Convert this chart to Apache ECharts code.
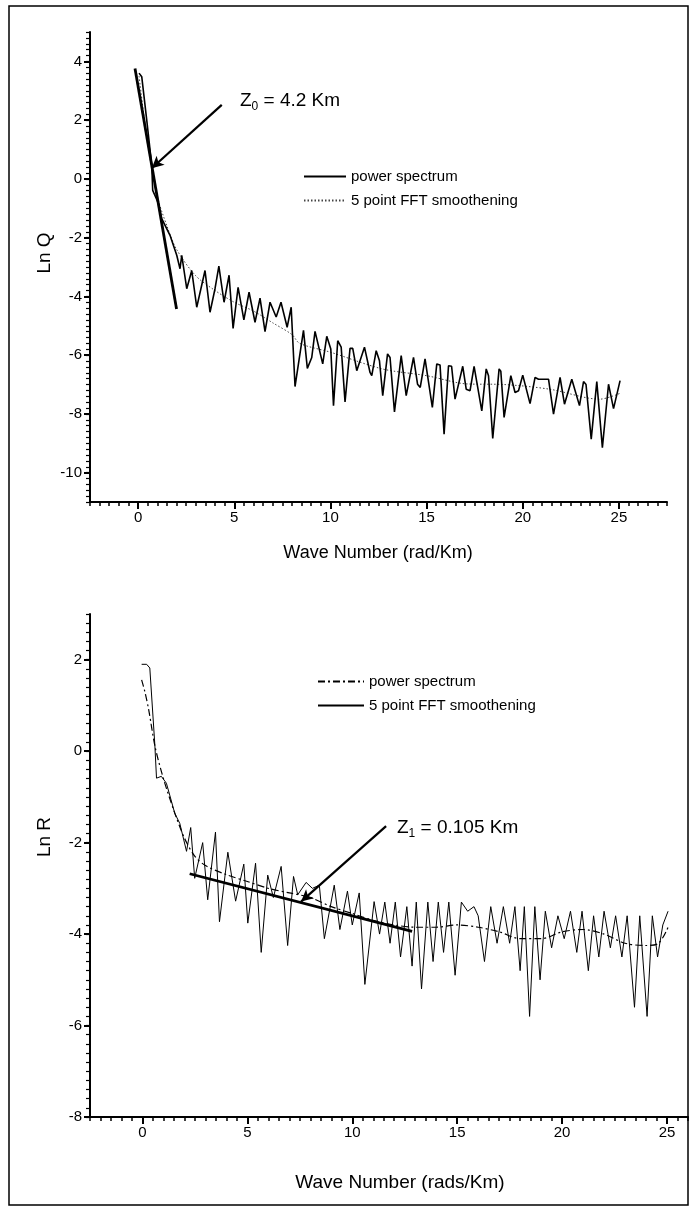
<!DOCTYPE html>
<html><head><meta charset="utf-8">
<script src="https://cdn.jsdelivr.net/npm/echarts@6/dist/echarts.min.js"></script>
<style>html,body{margin:0;padding:0;background:#fff}#c{width:690px;height:1211px}</style>
</head><body><div id="c"></div>
<script>
// ---------- DATA ----------
// Top panel: Ln Q vs wave number (rad/Km)
const qPowerX = [0.05,0.19,0.45,0.71,0.76,1.06,1.23,1.66,2.01,2.18,2.27,2.53,2.79,3.05,3.48,3.74,4.0,4.2,4.47,4.73,4.94,5.2,5.5,5.77,6.08,6.34,6.6,6.86,7.18,7.43,7.75,7.96,8.16,8.6,8.8,9.03,9.2,9.6,9.81,10.02,10.16,10.38,10.56,10.76,11.02,11.16,11.37,11.77,12.06,12.15,12.38,12.55,12.72,12.97,13.1,13.33,13.68,13.94,14.32,14.53,14.67,14.92,15.3,15.53,15.7,15.91,16.14,16.3,16.48,16.88,17.06,17.26,17.47,17.87,18.1,18.22,18.44,18.77,18.86,19.03,19.38,19.6,19.78,20.0,20.38,20.64,20.82,21.34,21.6,21.94,22.17,22.55,22.95,23.16,23.29,23.56,23.85,23.95,24.14,24.46,24.72,25.06];
const qPowerY = [3.6,3.48,2.0,0.47,-0.39,-0.84,-1.35,-1.92,-2.6,-3.06,-2.6,-3.74,-3.12,-4.37,-3.12,-4.54,-3.74,-2.97,-4.2,-3.28,-5.09,-3.69,-4.8,-3.86,-4.88,-4.06,-5.2,-4.2,-4.7,-4.2,-5.05,-4.37,-7.07,-5.16,-6.45,-6.08,-5.19,-6.3,-5.36,-5.79,-7.72,-5.51,-5.73,-7.59,-5.77,-5.77,-6.53,-5.73,-6.59,-6.7,-5.85,-6.19,-7.38,-5.96,-6.08,-7.93,-6.02,-7.38,-6.08,-6.99,-7.1,-6.13,-7.78,-6.3,-6.34,-8.69,-6.36,-6.38,-7.5,-6.38,-7.16,-7.21,-6.38,-7.9,-6.47,-6.7,-8.84,-6.47,-6.55,-8.12,-6.7,-7.27,-7.21,-6.68,-7.65,-6.76,-6.82,-6.82,-8.01,-6.76,-7.67,-6.82,-7.72,-6.9,-7.0,-8.86,-6.9,-6.95,-9.15,-6.99,-7.82,-6.87];
const qSmoothX = [0.05,0.5,1.0,1.5,2.0,3.0,4.0,5.0,6.0,7.0,8.0,8.4,10.0,12.7,15.0,17.1,19.0,21.4,24.0,25.06];
const qSmoothY = [3.5,1.2,-0.6,-1.6,-2.4,-3.3,-3.8,-4.2,-4.5,-4.9,-5.3,-5.6,-5.9,-6.47,-6.7,-6.98,-7.0,-7.16,-7.5,-7.3];
const qFitX = [-0.16,2.0];
const qFitY = [3.76,-4.43];

// Bottom panel: Ln R vs wave number (rads/Km)
const rJagX = [-0.04,0.2,0.35,0.59,0.67,0.9,1.14,1.3,1.54,1.78,2.1,2.3,2.49,2.87,3.11,3.48,3.67,4.07,4.44,4.83,5.02,5.39,5.66,5.97,6.24,6.61,6.92,7.2,7.4,7.8,8.1,8.43,8.67,9.14,9.41,9.77,10.0,10.33,10.6,11.04,11.3,11.55,11.8,12.05,12.3,12.6,12.85,13.05,13.3,13.6,13.85,14.1,14.35,14.6,14.9,15.2,15.5,15.8,16.0,16.3,16.6,16.9,17.2,17.5,17.75,18.0,18.2,18.45,18.7,18.95,19.2,19.5,19.8,20.1,20.4,20.7,20.95,21.25,21.5,21.75,22.0,22.3,22.55,22.85,23.1,23.45,23.7,24.05,24.3,24.55,24.8,25.05];
const rJagY = [1.9,1.9,1.82,0.14,-0.59,-0.55,-0.7,-0.96,-1.36,-1.58,-2.19,-1.67,-2.78,-2.0,-3.25,-1.77,-3.73,-2.21,-3.28,-2.47,-3.76,-2.45,-4.4,-2.71,-3.2,-2.52,-4.25,-2.74,-3.14,-2.87,-3.0,-2.93,-4.1,-2.93,-3.9,-3.06,-3.8,-3.1,-5.1,-3.29,-4.0,-3.3,-4.2,-3.3,-4.5,-3.4,-4.7,-3.3,-5.2,-3.3,-4.6,-3.3,-4.4,-3.3,-4.9,-3.3,-3.5,-3.4,-3.6,-4.6,-3.4,-4.2,-3.4,-4.2,-3.4,-4.8,-3.4,-5.8,-3.4,-5.0,-3.5,-4.3,-3.6,-4.1,-3.5,-4.4,-3.5,-4.8,-3.6,-4.5,-3.5,-4.3,-3.6,-4.5,-3.6,-5.6,-3.6,-5.8,-3.6,-4.5,-3.8,-3.5];
const rDashX = [-0.04,0.11,0.3,0.6,1.0,1.5,2.0,2.5,3.0,4.0,5.0,6.0,7.0,8.0,9.0,10.0,11.0,12.0,13.0,14.0,15.0,16.0,17.0,18.0,19.0,20.0,21.0,22.0,23.0,24.0,24.6,25.05];
const rDashY = [1.56,1.31,0.9,0.1,-0.6,-1.3,-1.9,-2.3,-2.5,-2.7,-2.85,-3.0,-3.1,-3.2,-3.4,-3.55,-3.7,-3.8,-3.85,-3.85,-3.8,-3.85,-3.95,-4.1,-4.1,-3.95,-3.9,-4.0,-4.2,-4.25,-4.2,-3.85];
const rFitX = [2.25,12.85];
const rFitY = [-2.68,-3.94];

// Ticks
const topXTicks = [0,5,10,15,20,25];
const topYTicks = [-10,-8,-6,-4,-2,0,2,4];
const botXTicks = [0,5,10,15,20,25];
const botYTicks = [-8,-6,-4,-2,0,2];

// Annotation arrows [from, to]
const qArrow = [[4.35,2.52],[0.71,0.36]];
const rArrow = [[11.61,-1.64],[7.56,-3.29]];

// ---------- CHART ----------
const zip = (a,b)=>a.map((v,i)=>[v,b[i]]);
const FONT = '"Liberation Sans", Arial, sans-serif';
const lbl = {color:'#000', fontFamily:FONT, fontSize:15, margin:8};
const axLine = {lineStyle:{color:'#000', width:2}};

function majorX(grid, min, max, ticks){
  return {type:'value', gridIndex:grid, min, max, position:'bottom',
    axisLine:{show:true, onZero:false, ...axLine},
    axisTick:{show:true, length:7, customValues:ticks, lineStyle:{color:'#000',width:2}},
    axisLabel:{...lbl, customValues:ticks}, splitLine:{show:false}};
}
function minorX(grid, min, max, step){
  return {type:'value', gridIndex:grid, min, max, interval:step, position:'bottom',
    axisLine:{show:false, onZero:false}, axisTick:{show:true, length:4, lineStyle:{color:'#000',width:1.5}},
    axisLabel:{show:false}, splitLine:{show:false}};
}
function majorY(grid, min, max, ticks){
  return {type:'value', gridIndex:grid, min, max, position:'left',
    axisLine:{show:true, onZero:false, ...axLine},
    axisTick:{show:true, length:6, customValues:ticks, lineStyle:{color:'#000',width:2}},
    axisLabel:{...lbl, customValues:ticks}, splitLine:{show:false}};
}
function minorY(grid, min, max, step){
  return {type:'value', gridIndex:grid, min, max, interval:step, position:'left',
    axisLine:{show:false, onZero:false}, axisTick:{show:true, length:4, lineStyle:{color:'#000',width:1.2}},
    axisLabel:{show:false}, splitLine:{show:false}};
}

const legendBase = {orient:'vertical', itemHeight:10, itemGap:9, selectedMode:false,
  itemStyle:{opacity:0}, textStyle:{fontFamily:FONT, fontSize:15, color:'#000'}};

const chart = echarts.init(document.getElementById('c'), null, {renderer:'canvas'});
const option = {
  backgroundColor:'#fff',
  animation:false,
  color:['#000'],
  grid:[
    {left:90, top:32, width:577, height:470},
    {left:90, top:614, width:598, height:503}
  ],
  xAxis:[ majorX(0,-2.5,27.5,topXTicks), minorX(0,-2.5,27.5,0.5),
          majorX(1,-2.5,26,botXTicks),  minorX(1,-2.5,26,0.5) ],
  yAxis:[ majorY(0,-11,5,topYTicks), minorY(0,-11,5,0.2),
          majorY(1,-8,3,botYTicks),  minorY(1,-8,3,0.2) ],
  legend:[
    Object.assign({}, legendBase, {left:298, top:164, itemWidth:42,
     data:['power spectrum','5 point FFT smoothening']}),
    Object.assign({}, legendBase, {left:312, top:669, itemWidth:46,
     data:['power spectrum\u200B','5 point FFT smoothening\u200B']})
  ],
  series:[
    {name:'power spectrum', type:'line', xAxisIndex:0, yAxisIndex:0, showSymbol:false, symbol:'none',
     data:zip(qPowerX,qPowerY), itemStyle:{color:'#000'}, lineStyle:{color:'#000', width:1.6}, z:3},
    {name:'5 point FFT smoothening', type:'line', xAxisIndex:0, yAxisIndex:0, showSymbol:false, symbol:'none', smooth:0.3,
     data:zip(qSmoothX,qSmoothY), itemStyle:{color:'#444'}, lineStyle:{color:'#444', width:1, type:[1.5,2]}, z:2},
    {name:'fitQ', type:'line', xAxisIndex:0, yAxisIndex:0, symbol:'none',
     data:zip(qFitX,qFitY), lineStyle:{color:'#000', width:2.8}, z:4,
     markLine:{silent:true, symbol:['none','arrow'], symbolSize:[9,12], label:{show:false},
       lineStyle:{color:'#000', width:2.2, type:'solid'},
       data:[[{coord:qArrow[0]},{coord:qArrow[1]}]]}},
    {name:'5 point FFT smoothening\u200B', type:'line', xAxisIndex:2, yAxisIndex:2, symbol:'none',
     data:zip(rJagX,rJagY), itemStyle:{color:'#000'}, lineStyle:{color:'#000', width:1}, z:3},
    {name:'power spectrum\u200B', type:'line', xAxisIndex:2, yAxisIndex:2, symbol:'none', smooth:0.3,
     data:zip(rDashX,rDashY), itemStyle:{color:'#000'}, lineStyle:{color:'#000', width:1.2, type:[7,3,2,3]}, z:2},
    {name:'fitR', type:'line', xAxisIndex:2, yAxisIndex:2, symbol:'none',
     data:zip(rFitX,rFitY), lineStyle:{color:'#000', width:2.8}, z:4,
     markLine:{silent:true, symbol:['none','arrow'], symbolSize:[9,12], label:{show:false},
       lineStyle:{color:'#000', width:2.2, type:'solid'},
       data:[[{coord:rArrow[0]},{coord:rArrow[1]}]]}}
  ],
  graphic:[
    {type:'rect', shape:{x:9, y:6, width:679, height:1199}, style:{fill:'none', stroke:'#000', lineWidth:1.5}, silent:true},
    {type:'text', x:240, y:101, style:{text:'Z{s|0} = 4.2 Km', fontFamily:FONT, fontSize:19, fill:'#000', verticalAlign:'middle',
       rich:{s:{fontSize:12, verticalAlign:'bottom', padding:[12,0,0,0], fontFamily:FONT}}}},
    {type:'text', x:397, y:828, style:{text:'Z{s|1} = 0.105 Km', fontFamily:FONT, fontSize:19, fill:'#000', verticalAlign:'middle',
       rich:{s:{fontSize:12, verticalAlign:'bottom', padding:[12,0,0,0], fontFamily:FONT}}}},
    {type:'text', x:45, y:253, rotation:Math.PI/2, style:{text:'Ln Q', fontFamily:FONT, fontSize:19, fill:'#000', align:'center', verticalAlign:'middle'}},
    {type:'text', x:45, y:837, rotation:Math.PI/2, style:{text:'Ln R', fontFamily:FONT, fontSize:19, fill:'#000', align:'center', verticalAlign:'middle'}},
    {type:'text', x:378, y:553, style:{text:'Wave Number (rad/Km)', fontFamily:FONT, fontSize:18, fill:'#000', align:'center', verticalAlign:'middle'}},
    {type:'text', x:400, y:1183, style:{text:'Wave Number (rads/Km)', fontFamily:FONT, fontSize:19, fill:'#000', align:'center', verticalAlign:'middle'}}
  ]
};
chart.setOption(option);
</script></body></html>
